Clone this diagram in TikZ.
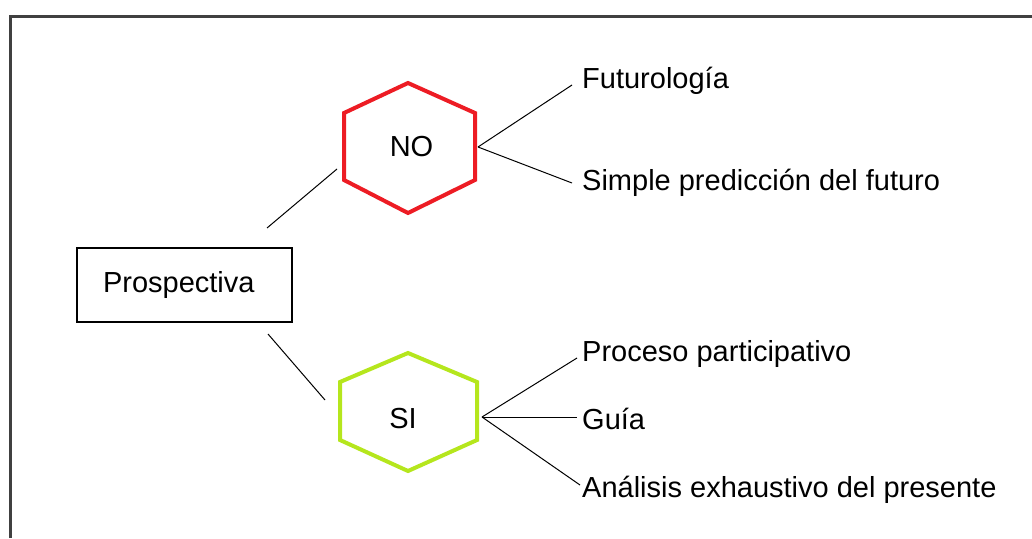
\documentclass[tikz,border=0pt]{standalone}
\usepackage{fontspec}
\setmainfont{Liberation Sans}
\usepackage{tikz}

\definecolor{hexred}{RGB}{237,28,36}
\definecolor{hexgreen}{RGB}{181,230,29}

\begin{document}
\begin{tikzpicture}[x=1pt, y=-1pt,
  every node/.style={font=\fontsize{29}{34}\selectfont, inner sep=0pt},
  leaf/.style={anchor=base west},
  branch/.style={line width=1pt},
  hexline/.style={line width=4pt, line join=miter}]
\useasboundingbox (0,0) rectangle (1032,538);
\draw [line width=3pt, black!75] (10,538) -- (10,16) -- (1032,16);

% main box
\node (pros) [draw, line width=1.5pt, minimum height=74pt, text width=163pt, inner xsep=26pt, align=left] at (184.5,285) {Prospectiva};

% hexagons
\draw [hexline, hexred] (344,113) -- (408,83) -- (475,113) -- (475,180) -- (408,213) -- (344,180) -- cycle;
\node (no) at (411.5,147) {NO};
\draw [hexline, hexgreen] (340,382) -- (408,353) -- (477,382) -- (477,440) -- (408,471) -- (340,440) -- cycle;
\node (si) at (403,419) {SI};

% leaves
\node (fut) [leaf] at (582,88) {Futurología};
\node (sim) [leaf] at (582,190) {Simple predicción del futuro};
\node (pro) [leaf] at (582,361) {Proceso participativo};
\node (gui) [leaf] at (582,429) {Guía};
\node (ana) [leaf] at (582,497) {Análisis exhaustivo del presente};

% connectors
\coordinate (pros-up) at (267,228);
\coordinate (pros-down) at (268,334);
\coordinate (no-in) at (337,169);
\coordinate (si-in) at (325,400);
\coordinate (no-out) at (478,147);
\coordinate (si-out) at (482,417);
\coordinate (fut-in) at (572,85);
\coordinate (sim-in) at (572,183);
\coordinate (pro-in) at (577,358);
\coordinate (gui-in) at (577,417);
\coordinate (ana-in) at (580,485);
\draw [branch] (pros-up) -- (no-in);
\draw [branch] (pros-down) -- (si-in);
\draw [branch] (no-out) -- (fut-in);
\draw [branch] (no-out) -- (sim-in);
\draw [branch] (si-out) -- (pro-in);
\draw [branch] (si-out) -- (gui-in);
\draw [branch] (si-out) -- (ana-in);
\end{tikzpicture}
\end{document}
